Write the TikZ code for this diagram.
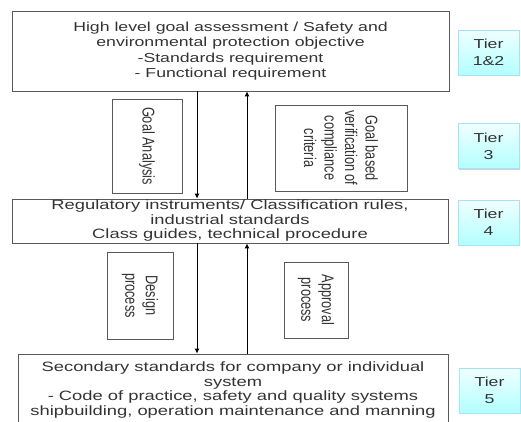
\documentclass[tikz,border=0pt]{standalone}
\usepackage{fontspec}
\setmainfont{Liberation Sans}
\newfontfamily\widefont[FakeStretch=1.36]{Liberation Sans}
\newfontfamily\tallfont[FakeStretch=0.75]{Liberation Sans}
\usetikzlibrary{arrows.meta,shadows}
\begin{document}
\begin{tikzpicture}[x=1pt,y=-1pt,
    level/.style={draw=black!65,line width=0.8pt,align=center,inner sep=0pt,text=black!80,font=\widefont\fontsize{13}{15.5}\selectfont},
    stagebox/.style={draw=black!65,line width=0.7pt,align=center,inner sep=0pt,rotate=-90,text=black!80,font=\tallfont\fontsize{17}{20.5}\selectfont},
    tier/.style={draw=cyan!35,top color=cyan!6,bottom color=cyan!30,minimum width=61pt,minimum height=45pt,align=center,inner sep=0pt,text=black!80,font=\widefont\fontsize{13}{17}\selectfont,drop shadow={shadow xshift=1.2pt,shadow yshift=-1.2pt,opacity=0.35}},
    flow/.style={line width=0.9pt,-{Latex[length=5pt,width=5pt]}}]
\clip (0,0) rectangle (521,421);
\node[level,minimum width=437pt,minimum height=80pt] (top) at (230.5,51) {High level goal assessment / Safety and\\environmental protection objective\\-Standards requirement\\- Functional requirement};
\node[level,minimum width=436pt,minimum height=44pt,font=\widefont\fontsize{13.5}{14.5}\selectfont] (mid) at (230,221) {Regulatory instruments/ Classification rules,\\industrial standards\\Class guides, technical procedure};
\node[level,minimum width=430pt,minimum height=72pt,font=\widefont\fontsize{13.5}{14.5}\selectfont] (bot) at (233,390) {Secondary standards for company or individual\\system\\- Code of practice, safety and quality systems\\shipbuilding, operation maintenance and manning};
\node[stagebox,minimum width=94pt,minimum height=70pt] (goal) at (147,146) {Goal Analysis};
\node[stagebox,minimum width=86pt,minimum height=132pt] (verif) at (341,148) {Goal based\\verification of\\compliance\\criteria};
\node[stagebox,minimum width=87pt,minimum height=66pt] (design) at (140,295.5) {Design\\process};
\node[stagebox,minimum width=76pt,minimum height=64pt] (approv) at (316,300) {Approval\\process};
\node[tier] (t12) at (488.5,52.5) {Tier\\1\&2};
\node[tier] (t3) at (488.5,146) {Tier\\3};
\node[tier] (t4) at (488.5,222.5) {Tier\\4};
\node[tier] (t5) at (489.5,390.5) {Tier\\5};
\coordinate (dn) at (197,0);
\coordinate (up) at (247,0);
\draw[flow] (top.south -| dn) -- (mid.north -| dn);
\draw[flow] (mid.north -| up) -- (top.south -| up);
\draw[flow] (mid.south -| dn) -- (bot.north -| dn);
\draw[flow] (bot.north -| up) -- (mid.south -| up);
\end{tikzpicture}
\end{document}
